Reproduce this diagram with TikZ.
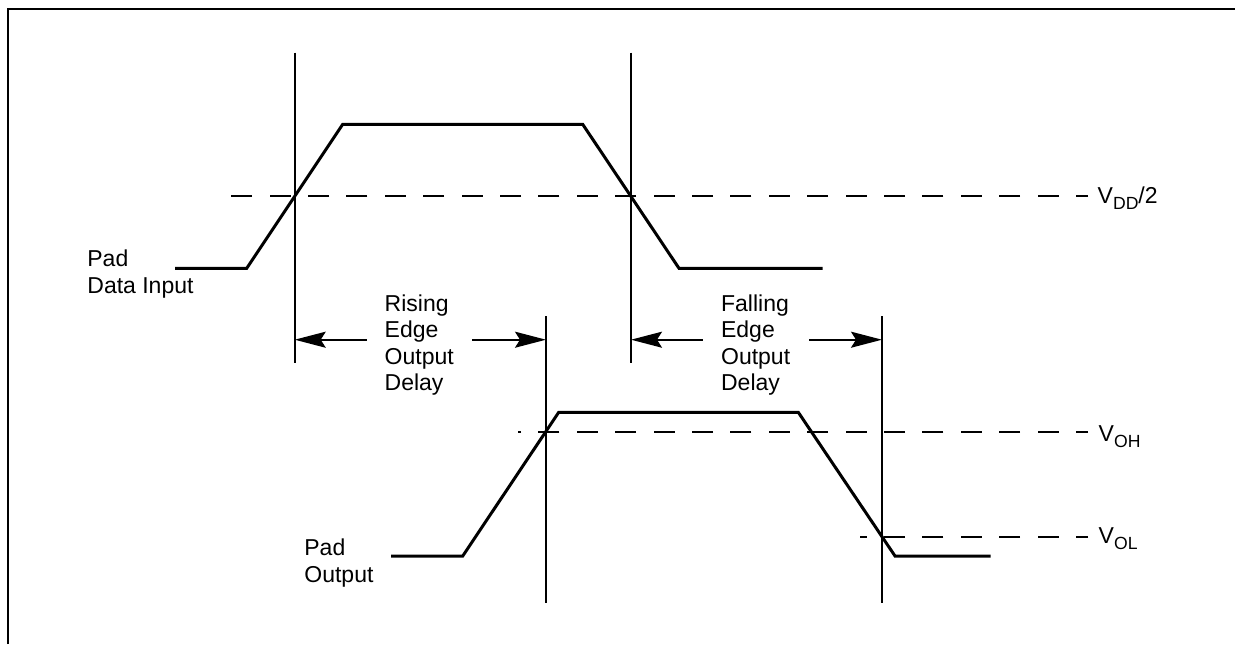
\documentclass[tikz,border=0pt]{standalone}
\usepackage{fontspec}
\setmainfont{Liberation Sans}
\usetikzlibrary{arrows.meta}
\newcommand\mysubscr[1]{\raisebox{-3pt}{\fontsize{8.8}{10}\selectfont #1}}
\begin{document}
\begin{tikzpicture}[x=0.5pt,y=-0.5pt,
  signal/.style={line width=1.5pt,line join=miter},
  marker/.style={line width=0.9pt},
  level/.style={line width=0.9pt,dash pattern=on 10.5pt off 8.7pt,dash phase=4.5pt},
  delay/.style={line width=0.9pt,-{Stealth[length=15.5pt,width=8pt,inset=2.5pt]}},
  lbl/.style={inner sep=0pt,font=\fontsize{11.5}{13.2}\selectfont,align=left,anchor=base west}]
\useasboundingbox (0,0) rectangle (1235,644);
% frame
\draw[line width=1pt] (8,644) -- (8,8.5) -- (1235,8.5);
% vertical markers
\coordinate (m1t) at (294.7,52.7); \coordinate (m1b) at (294.7,363.3);
\coordinate (m2t) at (631,52.7);   \coordinate (m2b) at (631,363.3);
\coordinate (m3t) at (546,316);    \coordinate (m3b) at (546,603.3);
\coordinate (m4t) at (882,316);    \coordinate (m4b) at (882,603.3);
\draw[marker] (m1t) -- (m1b);
\draw[marker] (m2t) -- (m2b);
\draw[marker] (m3t) -- (m3b);
\draw[marker] (m4t) -- (m4b);
% levels (drawn from right to left)
\draw[level] (1088,195.7) -- (221.7,195.7);
\draw[level] (1088,432) -- (518,432);
\draw[level] (1088,536.7) -- (860,536.7);
% signals
\draw[signal] (175,268.3) -- (246.7,268.3) -- (342.7,124.3) -- (582.7,124.3) -- (679,268.3) -- (822.7,268.3);
\draw[signal] (391,556) -- (462.7,556) -- (558.7,412.3) -- (798.3,412.3) -- (895,556) -- (990.7,556);
% delay arrows
\coordinate (a1s) at (366.7,339.7); \coordinate (a1e) at (294.7,339.7);
\coordinate (a2s) at (472.3,339.7); \coordinate (a2e) at (546,339.7);
\coordinate (a3s) at (702.7,339.7); \coordinate (a3e) at (631,339.7);
\coordinate (a4s) at (809,339.7);   \coordinate (a4e) at (882,339.7);
\draw[delay] (a1s) -- (a1e);
\draw[delay] (a2s) -- (a2e);
\draw[delay] (a3s) -- (a3e);
\draw[delay] (a4s) -- (a4e);
% labels (base anchor = baseline of last line)
\node[lbl] (pdi) at (87,293) {Pad\\Data Input};
\node[lbl] (rise) at (384.3,390.5) {Rising\\Edge\\Output\\Delay};
\node[lbl] (fall) at (720.7,390.5) {Falling\\Edge\\Output\\Delay};
\node[lbl] (po) at (304,582.3) {Pad\\Output};
\node[lbl] (vdd) at (1097.3,203.3) {V\mysubscr{DD}/2};
\node[lbl] (voh) at (1098.3,441) {V\mysubscr{OH}};
\node[lbl] (vol) at (1098.3,543.3) {V\mysubscr{OL}};
\end{tikzpicture}
\end{document}
